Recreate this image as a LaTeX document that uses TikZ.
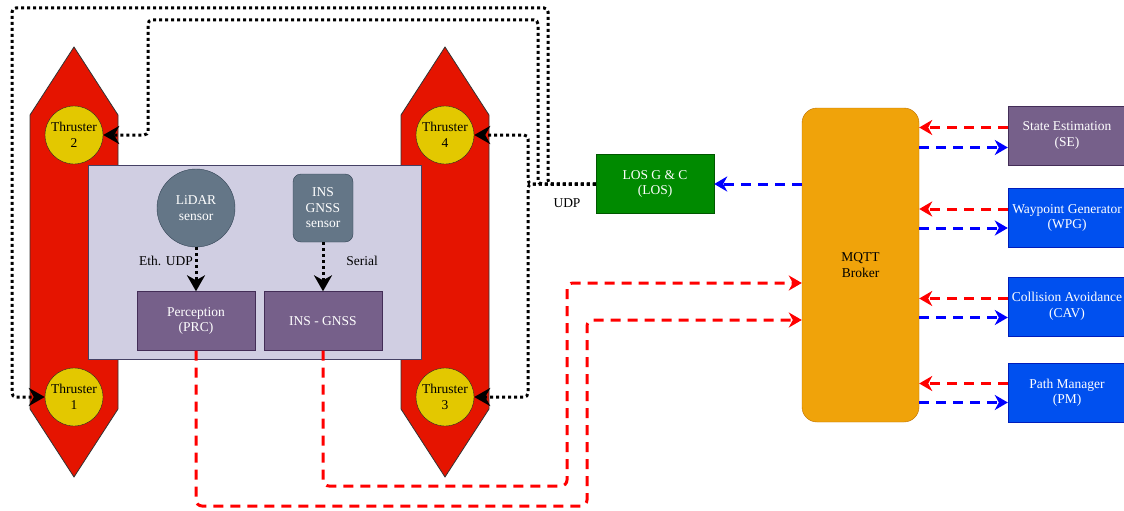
\documentclass[tikz,border=0pt]{standalone}
\usepackage{fontspec}
\setmainfont{Liberation Serif}
\usetikzlibrary{arrows.meta, calc, positioning}

\definecolor{hullred}{HTML}{E51400}
\definecolor{thrustyel}{HTML}{E3C800}
\definecolor{deckfill}{HTML}{D0CEE2}
\definecolor{deckline}{HTML}{56517E}
\definecolor{slate}{HTML}{647687}
\definecolor{slatedark}{HTML}{314354}
\definecolor{purp}{HTML}{76608A}
\definecolor{purpdark}{HTML}{432D57}
\definecolor{losgreen}{HTML}{008A00}
\definecolor{losdark}{HTML}{005700}
\definecolor{brokerfill}{HTML}{F0A30A}
\definecolor{brokerline}{HTML}{BD7000}
\definecolor{modblue}{HTML}{0050EF}
\definecolor{modbluedark}{HTML}{001DBC}

\tikzset{
  hull/.style={fill=hullred, draw=black!80, line width=0.8pt},
  thruster/.style={circle, draw=black!85, fill=thrustyel, text=black, minimum size=58pt, inner sep=0pt, align=center},
  deck/.style={rectangle, draw=deckline!80!black, fill=deckfill, line width=1pt, minimum width=333pt, minimum height=194pt},
  sensor/.style={draw=slatedark, fill=slate, text=white, align=center, inner sep=0pt},
  module/.style={rectangle, draw=purpdark, fill=purp, text=white, minimum width=118pt, minimum height=59pt, align=center, inner sep=1pt},
  service/.style={rectangle, draw=modbluedark, fill=modblue, text=white, minimum width=118pt, minimum height=59pt, align=center, inner sep=1pt},
  tip/.style={-{Stealth[length=13pt, width=15pt, inset=4pt]}},
  bigtip/.style={-{Stealth[length=16pt, width=18pt, inset=5pt]}},
  ctrl/.style={bigtip, draw=black, line width=3pt, dash pattern=on 3pt off 3pt, rounded corners=4pt},
  redarr/.style={tip, draw=red, line width=3pt, dash pattern=on 10pt off 7pt, rounded corners=6pt},
  bluearr/.style={tip, draw=blue, line width=3pt, dash pattern=on 10pt off 7pt}
}

\begin{document}
\begin{tikzpicture}[x=1pt, y=-1pt, font=\fontsize{13.5}{15.5}\selectfont]
\useasboundingbox (0,0) rectangle (1124,511);

% hulls
\filldraw[hull] (30,115) -- (74,47) -- (118,115) -- (118,409) -- (74,477) -- (30,409) -- cycle;
\filldraw[hull] (401,115) -- (445,47) -- (489,115) -- (489,409) -- (445,477) -- (401,409) -- cycle;

% thrusters
\node[thruster] (t2) at (74,135) {Thruster\\2};
\node[thruster] (t4) at (445,135) {Thruster\\4};
\node[thruster] (t1) at (74,397) {Thruster\\1};
\node[thruster] (t3) at (445,397) {Thruster\\3};

% deck and onboard parts
\node[deck] (deck) at (254.5,262) {};
\node[sensor, circle, minimum size=78pt] (lidar) at (196,208) {LiDAR\\sensor};
\node[sensor, rectangle, rounded corners=8pt, minimum width=60pt, minimum height=68pt] (inssen) at (323,208) {INS\\GNSS\\sensor};
\node[module] (prc) at (196,321) {Perception\\(PRC)};
\node[module] (ins) at (323,321) {INS - GNSS};
\node (eth) at (166,261) {Eth. UDP};
\node (serial) at (362,261) {Serial};

% shore side
\node[rectangle, draw=losdark, fill=losgreen, text=white, minimum width=118pt, minimum height=59pt, align=center] (los) at (655,184) {LOS G \& C\\(LOS)};
\node (udp) at (567,203) {UDP};
\node[rectangle, rounded corners=15pt, draw=brokerline, fill=brokerfill, text=black, minimum width=117pt, minimum height=314pt, align=center] (mqtt) at (860.5,265) {MQTT\\Broker};
\node[module] (se) at (1067,135.5) {State Estimation\\(SE)};
\node[service] (wpg) at (1067,218) {Waypoint Generator\\(WPG)};
\node[service] (cav) at (1067,306.5) {Collision Avoidance\\(CAV)};
\node[service] (pm) at (1067,392.5) {Path Manager\\(PM)};

% sensor links
\draw[ctrl] (lidar.south) -- (prc.north);
\draw[ctrl] (inssen.south) -- (ins.north);

% thruster commands
\draw[ctrl] (los.west) -| (548,8) -| (12,397) -- (t1);
\draw[ctrl] (los.west) -| (538,20) -| (148,135) -- (t2);
\draw[ctrl] (los.west) -| (528,135) -- (t4);
\draw[ctrl] (los.west) -| (528,397) -- (t3);

% data to broker
\draw[redarr] (prc.south) |- (587,506) |- ($(mqtt.west)+(0,55)$);
\draw[redarr] (ins.south) |- (567,486) |- ($(mqtt.west)+(0,18)$);
\draw[bluearr] (mqtt.west |- los.east) -- (los.east);

% broker services
\coordinate (se-out) at ($(se.west)+(0,-8)$);
\coordinate (se-in) at ($(se.west)+(0,12)$);
\coordinate (wpg-out) at ($(wpg.west)+(0,-9)$);
\coordinate (wpg-in) at ($(wpg.west)+(0,10)$);
\coordinate (cav-out) at ($(cav.west)+(0,-8)$);
\coordinate (cav-in) at ($(cav.west)+(0,11)$);
\coordinate (pm-out) at ($(pm.west)+(0,-9)$);
\coordinate (pm-in) at ($(pm.west)+(0,10)$);
\draw[redarr] (se-out) -- (se-out -| mqtt.east);
\draw[bluearr] (se-in -| mqtt.east) -- (se-in);
\draw[redarr] (wpg-out) -- (wpg-out -| mqtt.east);
\draw[bluearr] (wpg-in -| mqtt.east) -- (wpg-in);
\draw[redarr] (cav-out) -- (cav-out -| mqtt.east);
\draw[bluearr] (cav-in -| mqtt.east) -- (cav-in);
\draw[redarr] (pm-out) -- (pm-out -| mqtt.east);
\draw[bluearr] (pm-in -| mqtt.east) -- (pm-in);
\end{tikzpicture}
\end{document}
